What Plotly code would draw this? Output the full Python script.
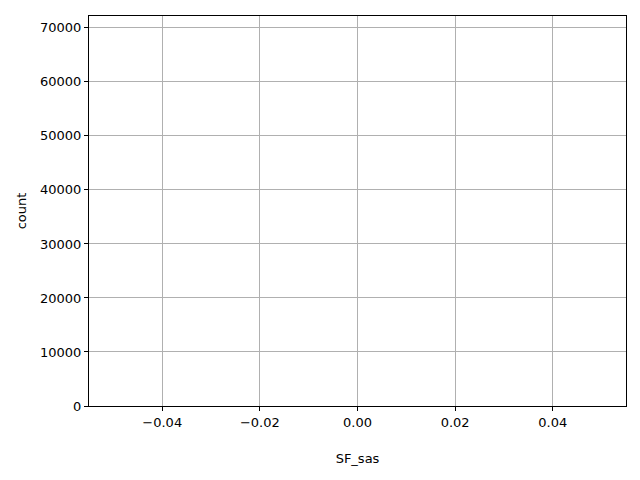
import plotly.graph_objects as go

categories = [0.0]
counts = [68800]
x_ticks = [-0.04, -0.02, 0.0, 0.02, 0.04]
y_ticks = [0, 10000, 20000, 30000, 40000, 50000, 60000, 70000]

fig = go.Figure()
fig.add_trace(go.Bar(x=categories, y=counts, width=[0], marker=dict(color="rgba(31,119,180,0)", line=dict(width=0)), showlegend=False, hoverinfo="skip"))

font = dict(family="DejaVu Sans", size=13, color="black")
fig.update_layout(
    width=640, height=480,
    margin=dict(l=81, r=22, t=8, b=82),
    plot_bgcolor="white", paper_bgcolor="white",
    font=font,
    xaxis=dict(range=[-0.055, 0.055], tickvals=x_ticks, tickformat=".2f",
               showgrid=True, gridcolor="#b0b0b0", gridwidth=1,
               showline=True, linecolor="black", linewidth=1, mirror=True,
               ticks="outside", ticklen=4, tickcolor="black", zeroline=False,
               title=dict(text="SF_sas", font=font, standoff=25)),
    yaxis=dict(range=[0, 72200], tickvals=y_ticks, tickformat="d",
               showgrid=True, gridcolor="#b0b0b0", gridwidth=1,
               showline=True, linecolor="black", linewidth=1, mirror=True,
               ticks="outside", ticklen=4, tickcolor="black", zeroline=False,
               title=dict(text="count", font=font, standoff=10)),
)
fig.write_html("out.html")
